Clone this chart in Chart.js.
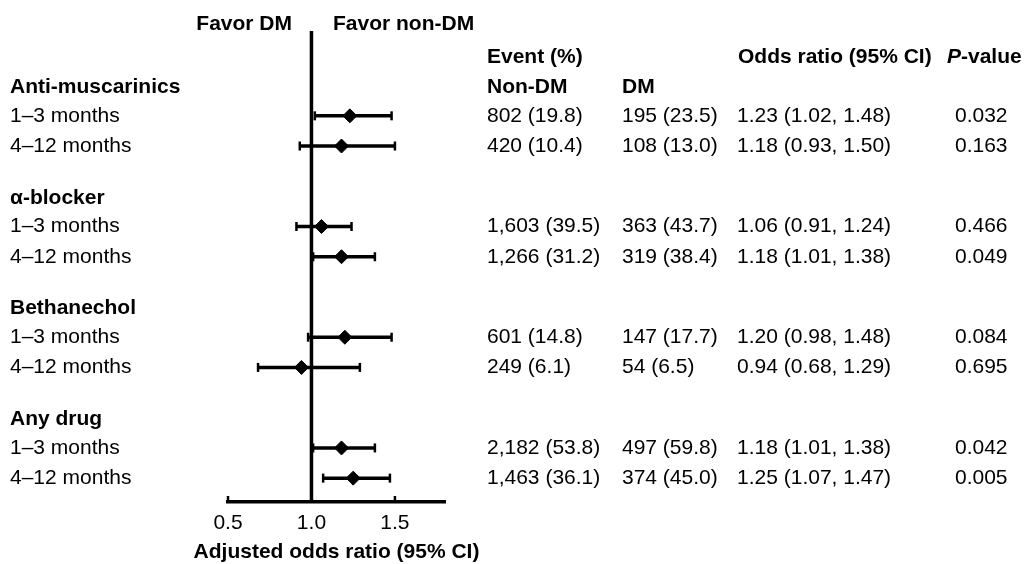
<!DOCTYPE html>
<html>
<head>
<meta charset="utf-8">
<script src="https://cdn.jsdelivr.net/npm/chart.js@4/dist/chart.umd.min.js"></script>
<style>
  html, body { margin: 0; padding: 0; background: #fff; }
  #wrap { width: 1031px; height: 564px; position: relative; }
</style>
</head>
<body>
<div id="wrap"><canvas id="forest"></canvas></div>
<script>
    const groups = ['Anti-muscarinics', 'α-blocker', 'Bethanechol', 'Any drug'];
    const periods = ['1–3 months', '4–12 months'];
    const oddsRatio = [1.23, 1.18, 1.06, 1.18, 1.20, 0.94, 1.18, 1.25];
    const ciLow = [1.02, 0.93, 0.91, 1.01, 0.98, 0.68, 1.01, 1.07];
    const ciHigh = [1.48, 1.50, 1.24, 1.38, 1.48, 1.29, 1.38, 1.47];
    const eventNonDM = ['802 (19.8)', '420 (10.4)', '1,603 (39.5)', '1,266 (31.2)',
      '601 (14.8)', '249 (6.1)', '2,182 (53.8)', '1,463 (36.1)'];
    const eventDM = ['195 (23.5)', '108 (13.0)', '363 (43.7)', '319 (38.4)',
      '147 (17.7)', '54 (6.5)', '497 (59.8)', '374 (45.0)'];
    const pValues = ['0.032', '0.163', '0.466', '0.049', '0.084', '0.695', '0.042', '0.005'];
    const xTicks = [0.5, 1.0, 1.5];

    // row layout: group header then its two periods
    const groupStep = 3.85;
    const rowY = oddsRatio.map((v, i) => Math.floor(i / 2) * groupStep + 1 + (i % 2) * 1.05);
    const headerY = groups.map((g, i) => i * groupStep);
    const yMin = -1.95, yMax = 14.43;

    const FONT = '"Liberation Sans", Arial, sans-serif';
    const fs = 21;

    const datasets = [];
    // reference line at OR = 1
    datasets.push({
      data: [{x: 1, y: yMin}, {x: 1, y: yMax}],
      showLine: true,
      borderColor: '#000',
      borderWidth: 3.5,
      pointRadius: 0
    });
    // confidence intervals with caps
    rowY.forEach((y, i) => {
      datasets.push({
        data: [{x: ciLow[i], y: y}, {x: ciHigh[i], y: y}],
        showLine: true,
        borderColor: '#000',
        borderWidth: 3.5,
        pointStyle: 'line',
        rotation: 90,
        pointRadius: 4.5,
        pointBorderWidth: 2.5,
        pointBorderColor: '#000'
      });
    });
    // point estimates
    datasets.push({
      data: rowY.map((y, i) => ({x: oddsRatio[i], y: y})),
      pointStyle: 'rectRot',
      pointRadius: 7,
      backgroundColor: '#000',
      borderColor: '#000',
      borderWidth: 1
    });

    const tablePlugin = {
      id: 'table',
      afterDraw(chart) {
        const c = chart.ctx;
        const ys = chart.scales.y;
        const xs = chart.scales.x;
        const area = chart.chartArea;
        c.save();
        c.fillStyle = '#000';
        c.textBaseline = 'middle';
        c.textAlign = 'left';
        const bold = 'bold ' + fs + 'px ' + FONT;
        const reg = fs + 'px ' + FONT;

        // favor labels
        c.font = bold;
        c.textAlign = 'right';
        c.fillText('Favor DM', 292, 24);
        c.textAlign = 'left';
        c.fillText('Favor non-DM', 333, 24);

        // column headers
        const hy = ys.getPixelForValue(-1.04);
        c.fillText('Event (%)', 487, hy);
        c.fillText('Odds ratio (95% CI)', 738, hy);
        c.font = 'italic bold ' + fs + 'px ' + FONT;
        c.fillText('P', 947, hy);
        const pw = c.measureText('P').width;
        c.font = bold;
        c.fillText('-value', 947 + pw, hy);
        const sy = ys.getPixelForValue(0);
        c.fillText('Non-DM', 487, sy);
        c.fillText('DM', 622, sy);

        // group headers
        groups.forEach((g, i) => {
          c.font = bold;
          c.fillText(g, 10, ys.getPixelForValue(headerY[i]));
        });
        // rows
        c.font = reg;
        rowY.forEach((y, i) => {
          const py = ys.getPixelForValue(y);
          c.fillText(periods[i % 2], 10, py);
          c.fillText(eventNonDM[i], 487, py);
          c.fillText(eventDM[i], 622, py);
          c.fillText(oddsRatio[i].toFixed(2) + ' (' + ciLow[i].toFixed(2) + ', ' + ciHigh[i].toFixed(2) + ')', 737, py);
          c.fillText(pValues[i], 955, py);
        });

        // axis tick marks pointing up
        c.strokeStyle = '#000';
        c.lineWidth = 2.5;
        xTicks.forEach(t => {
          const px = xs.getPixelForValue(t);
          c.beginPath();
          c.moveTo(px, area.bottom);
          c.lineTo(px, area.bottom - 6);
          c.stroke();
        });

        // axis title centred under the axis
        c.font = bold;
        c.textAlign = 'center';
        c.fillText('Adjusted odds ratio (95% CI)', (area.left + area.right) / 2, 552);
        c.restore();
      }
    };

    const ctx = document.getElementById('forest').getContext('2d');
    const forest = new Chart(ctx, {
      type: 'scatter',
      data: {datasets: datasets},
      options: {
        animation: false,
        responsive: true,
        maintainAspectRatio: false,
        layout: {
          padding: {left: 228, right: 586, top: 31, bottom: 0}
        },
        plugins: {
          legend: {display: false},
          tooltip: {enabled: false}
        },
        scales: {
          x: {
            type: 'linear',
            min: 0.5,
            max: 1.8,
            afterBuildTicks: axis => {
              axis.ticks = xTicks.map(v => ({value: v}));
            },
            border: {display: true, color: '#000', width: 3.5},
            grid: {display: false, drawOnChartArea: false, drawTicks: false},
            ticks: {
              color: '#000',
              padding: 9,
              font: {family: FONT, size: fs},
              callback: v => Number(v).toFixed(1)
            },
            afterFit: axis => { axis.height = 62; }
          },
          y: {
            type: 'linear',
            display: false,
            reverse: true,
            min: yMin,
            max: yMax
          }
        }
      },
      plugins: [tablePlugin]
    });
</script>
</body>
</html>
